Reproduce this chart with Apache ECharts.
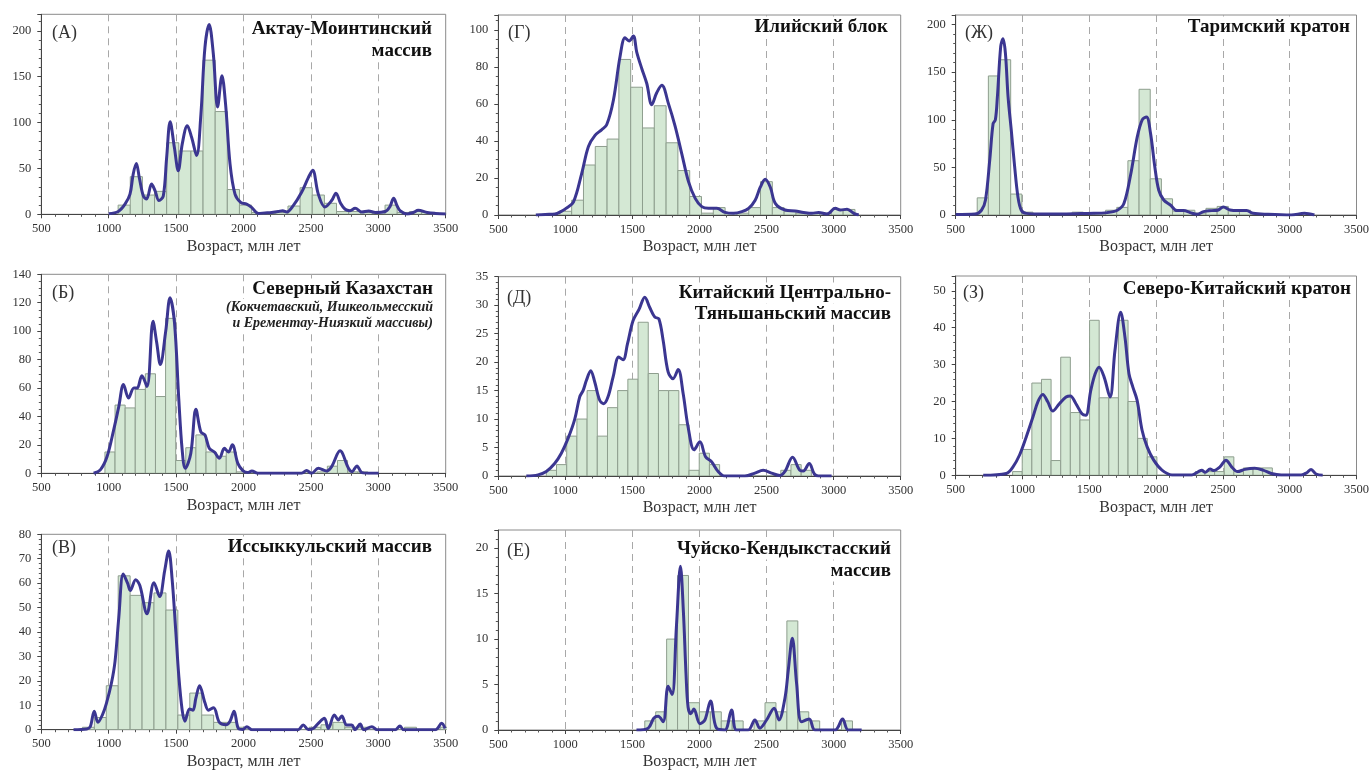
<!DOCTYPE html>
<html><head><meta charset="utf-8">
<script src="https://cdn.jsdelivr.net/npm/echarts@6/dist/echarts.min.js"></script>
<style>html,body{margin:0;padding:0;background:#fff}#c{width:1372px;height:771px}</style>
</head><body><div id="c"></div>
<script>
// ---------- DATA ----------
const xTicks = [500, 1000, 1500, 2000, 2500, 3000, 3500];

// (А) Актау-Моинтинский массив
const aktauBinStart = 1070, aktauBinWidth = 90;
const aktauCounts = [10, 41, 21, 25, 78, 69, 69, 168, 112, 27, 10, 2, 1, 2, 9, 29, 21, 12, 3, 3, 2, 2, 10, 2, 3, 2, 1];
const aktauCurve = [[1000,0.5],[1071,3],[1121,11],[1158,22],[1182,44],[1205,55.5],[1227,40],[1257,20],[1281,16.7],[1318,33],[1343,26],[1373,15],[1405,20],[1430,62],[1456,101],[1487,73],[1516,47.6],[1546,77],[1583,96.6],[1615,84],[1652,64],[1684,109],[1714,182],[1745,207],[1776,175],[1808,117],[1840,151],[1867,120],[1900,55],[1937,22],[1979,13],[2023,11],[2060,7.6],[2110,1],[2159,1.5],[2209,2],[2258,3],[2290,4],[2320,2.5],[2369,9.4],[2431,24],[2481,40],[2513,48],[2555,22],[2604,8],[2654,15],[2686,23],[2720,12],[2754,5.5],[2790,4],[2828,6.5],[2878,2.5],[2928,3.6],[2978,2],[3052,3],[3085,8],[3114,17.5],[3140,9],[3164,3.6],[3214,0.4],[3260,2],[3296,4.4],[3363,2],[3425,1],[3500,0.4]];

// (Г) Илийский блок
const iliBinStart = 959, iliBinWidth = 88;
const iliCounts = [2, 8, 27, 37, 41, 84, 69, 47, 59, 39, 24, 10, 1, 4, 1, 1, 4, 18, 4, 2, 1, 1, 1, 3, 3];
const iliCurve = [[780,0],[850,0.3],[923,0.5],[970,2],[1005,3.6],[1060,7],[1122,22.5],[1172,37],[1221,43],[1270,46],[1308,48.7],[1358,62],[1408,85.7],[1445,95.7],[1475,94],[1507,96.6],[1532,88],[1570,79],[1607,71],[1644,59.6],[1681,66],[1719,70],[1769,60],[1818,48],[1868,33],[1918,18],[1968,9],[2017,4.5],[2067,3.6],[2129,3.6],[2191,1.4],[2254,0.9],[2316,1.8],[2366,3.6],[2415,8],[2453,15],[2490,19.3],[2528,15],[2565,6.3],[2639,2.7],[2714,2.2],[2776,1.4],[2838,0.9],[2888,1.4],[2950,0.5],[3012,3.6],[3050,2.7],[3100,3.1],[3150,0.9],[3187,0]];

// (Ж) Таримский кратон
const tarimBinWidth = 83.5;
const tarimBinStarts = [661, 744.5, 828, 911.5, 995, 1371.5, 1455, 1538.5, 1622, 1705.5, 1789, 1872.5, 1956, 2039.5, 2123, 2206.5, 2290, 2373.5, 2457, 2540.5, 2624, 2707.5];
const tarimCounts = [18, 146, 163, 22, 3, 3, 1, 1, 5, 8, 57, 132, 38, 17, 4, 5, 2, 7, 9, 5, 5, 1];
const tarimCurve = [[500,0.5],[644,1],[693,5],[723,15.8],[755,58],[780,96],[797,100],[812,124],[837,177],[854,185],[872,170],[892,124],[916,89],[941,51],[966,19],[991,5],[1028,1.7],[1140,1],[1300,1],[1487,1.7],[1635,2.5],[1710,5],[1759,12],[1809,42],[1859,82],[1896,100],[1928,103],[1958,86],[1990,51],[2020,26],[2057,15.8],[2107,10.5],[2156,4.6],[2206,4.6],[2255,2.5],[2305,0.7],[2355,3.5],[2416,4.6],[2466,5.3],[2503,8.4],[2553,5.3],[2615,4.6],[2677,4.6],[2726,1.8],[2838,0.7],[3011,0],[3110,1.8],[3185,0]];

// (Б) Северный Казахстан
const sevkazBinStart = 972, sevkazBinWidth = 75;
const sevkazCounts = [15, 48, 46, 59, 70, 54, 109, 9, 18, 27, 15, 12, 15, 1, 0, 0, 0, 0, 0, 0, 0, 1, 5, 9, 1, 1];
const sevkazCurve = [[888,0],[938,2.4],[988,11.8],[1037,30.6],[1075,47],[1110,62.5],[1147,53],[1187,60],[1211,60],[1246,68.7],[1284,61],[1329,107],[1356,92],[1383,76.5],[1423,100],[1455,123.5],[1488,106],[1520,52],[1545,16.5],[1568,3.5],[1609,14],[1647,45],[1684,29],[1714,27],[1746,17.6],[1784,15],[1821,10.6],[1858,17.6],[1888,15],[1917,20],[1958,7],[1995,1.9],[2032,0.5],[2062,1.6],[2107,0],[2430,0],[2468,1.9],[2505,0],[2555,3.5],[2617,1.6],[2654,4.7],[2716,15.8],[2779,3.5],[2804,1.2],[2841,5.2],[2878,0.5],[2928,0],[3003,0]];

// (Д) Китайский Центрально-Тяньшаньский массив
const kitBinStart = 858, kitBinWidth = 76;
const kitCounts = [1, 2, 7, 10, 15, 7, 12, 15, 17, 27, 18, 15, 15, 9, 1, 4, 2, 0, 0, 0, 0, 0, 0, 1, 2, 1];
const kitCurve = [[709,0],[796,0.2],[858,0.8],[920,2.2],[970,4],[1020,6.6],[1070,10],[1107,13.9],[1132,15],[1157,16.8],[1189,18.5],[1219,16.5],[1256,13.3],[1286,12.7],[1318,13.9],[1356,17.4],[1398,20.9],[1430,20.4],[1463,23.2],[1505,27.3],[1550,29.3],[1592,31.4],[1629,29.6],[1667,27.9],[1697,27.6],[1729,23.8],[1766,18.3],[1803,17.1],[1841,18.7],[1878,14.5],[1915,8.6],[1960,4.6],[2003,6],[2045,3.4],[2090,2.5],[2139,0.8],[2189,0],[2338,0],[2413,0.5],[2475,1],[2537,0.5],[2600,0.1],[2637,0.8],[2694,3.3],[2749,1],[2774,0.9],[2818,2.2],[2856,0.35],[2886,0],[2985,0]];

// (З) Северо-Китайский кратон
const skBinStart = 926, skBinWidth = 72;
const skCounts = [1, 7, 25, 26, 4, 32, 17, 15, 42, 21, 21, 42, 20, 10, 5, 0, 0, 0, 0, 1, 1, 1, 5, 1, 2, 2, 2];
const skCurve = [[706,0],[879,0.5],[929,2.3],[978,5.5],[1028,10.4],[1078,15.8],[1115,19.9],[1152,21.9],[1189,19.9],[1226,17.4],[1276,19.4],[1326,21.2],[1358,21.5],[1400,19.4],[1445,16.7],[1474,16.3],[1511,23],[1544,27.5],[1573,29.3],[1611,26.6],[1655,21.2],[1692,33.8],[1735,44.2],[1767,37.4],[1797,27.5],[1826,23.9],[1858,20.3],[1895,12.2],[1933,7.7],[1982,4.1],[2044,1.4],[2119,0.1],[2268,0.1],[2317,1],[2342,1.35],[2367,0.8],[2404,1.7],[2429,1.3],[2478,2.3],[2523,4.1],[2565,2.3],[2610,1],[2664,1.6],[2738,1.9],[2800,1.4],[2862,0.5],[2937,0.1],[3086,0.1],[3128,0.7],[3160,1.6],[3197,0.35],[3247,0]];

// (В) Иссыккульский массив
const isBinStart = 805, isBinWidth = 88.5;
const isCounts = [1, 5, 18, 63, 55, 52, 56, 49, 6, 15, 6, 3, 3, 1, 0, 0, 0, 0, 0, 1, 2, 3, 1, 1, 0, 0, 0, 1, 0, 0, 1];
const isCurve = [[739,0],[838,0.3],[863,1.2],[893,7.6],[920,3],[955,6.3],[983,10.8],[1020,19],[1047,28],[1075,46],[1108,63.7],[1140,60],[1160,57],[1200,61.4],[1231,59],[1284,47.5],[1336,60.2],[1378,54.5],[1415,65],[1445,73.2],[1470,62],[1498,40],[1520,22],[1545,8],[1565,3.5],[1600,8.5],[1625,8],[1647,13],[1674,18],[1714,11],[1740,8],[1778,9],[1821,3],[1870,2],[1900,3.5],[1930,7.6],[1962,0.5],[1995,0.1],[2025,1.2],[2062,0],[2405,0],[2443,1.9],[2480,0.1],[2517,0.5],[2555,2.6],[2600,4.7],[2629,0.5],[2674,6],[2704,4],[2729,5.6],[2766,1.9],[2803,1.9],[2828,0],[2866,2.3],[2891,0],[2953,1.2],[2990,0],[3127,0],[3160,1.5],[3189,0],[3425,0],[3470,2.6],[3495,0.5]];

// (Е) Чуйско-Кендыкстасский массив
const chBinStart = 1592, chBinWidth = 81.5;
const chCounts = [1, 2, 10, 17, 3, 2, 2, 1, 1, 0, 1, 3, 2, 12, 2, 1, 0, 0, 1];
const chCurve = [[1530,0],[1617,0.2],[1659,1.3],[1692,1.5],[1729,0.9],[1766,4.8],[1796,3.9],[1828,11.4],[1858,18],[1880,13],[1900,6],[1915,2.5],[1935,1.8],[1958,2.3],[2003,0.7],[2040,1.1],[2082,3.2],[2127,0.2],[2189,0],[2239,2.2],[2276,0],[2363,0],[2413,1.1],[2450,0.2],[2500,1.1],[2557,2.4],[2592,1.1],[2637,3.5],[2662,6.6],[2692,10.1],[2724,5.1],[2761,0.9],[2818,1.2],[2861,0],[3010,0],[3067,1.2],[3109,0],[3209,0]];

// ---------- BUILD ----------
function uniformBins(start, width, counts) { return counts.map((c, i) => [start + i * width, start + (i + 1) * width, c]); }
function listedBins(starts, width, counts) { return counts.map((c, i) => [starts[i], starts[i] + width, c]); }

const FONT = '"Liberation Serif","Times New Roman",serif';
const plain = v => String(v);
const panels = [
  {g:[41.3,14.3,404.4,200], ymax:218, yint:50, ysub:5, showMax:false, bins:uniformBins(aktauBinStart,aktauBinWidth,aktauCounts), curve:aktauCurve},
  {g:[498.3,15,402.4,200], ymax:108, yint:20, ysub:4, showMax:false, bins:uniformBins(iliBinStart,iliBinWidth,iliCounts), curve:iliCurve},
  {g:[955.7,15,403.3,200], ymax:210, yint:50, ysub:5, showMax:false, bins:listedBins(tarimBinStarts,tarimBinWidth,tarimCounts), curve:tarimCurve},
  {g:[41.3,274.3,404.4,199], ymax:140, yint:20, ysub:4, showMax:true, bins:uniformBins(sevkazBinStart,sevkazBinWidth,sevkazCounts), curve:sevkazCurve},
  {g:[498.3,276.7,402.4,199.3], ymax:35, yint:5, ysub:5, showMax:true, bins:uniformBins(kitBinStart,kitBinWidth,kitCounts), curve:kitCurve},
  {g:[955.7,276,403.3,199.3], ymax:54, yint:10, ysub:5, showMax:false, bins:uniformBins(skBinStart,skBinWidth,skCounts), curve:skCurve},
  {g:[41.3,534.3,404.4,195.4], ymax:80, yint:10, ysub:5, showMax:true, bins:uniformBins(isBinStart,isBinWidth,isCounts), curve:isCurve},
  {g:[498.3,530,402.4,200], ymax:22, yint:5, ysub:5, showMax:false, bins:uniformBins(chBinStart,chBinWidth,chCounts), curve:chCurve}
];

const grid = [], xAxis = [], yAxis = [], series = [];
panels.forEach((p, i) => {
  grid.push({left:p.g[0], top:p.g[1], width:p.g[2], height:p.g[3], show:true, borderColor:'#8a8a8a', borderWidth:1, backgroundColor:'transparent'});
  xAxis.push({type:'value', gridIndex:i, min:xTicks[0], max:xTicks[xTicks.length-1], interval:xTicks[1]-xTicks[0],
    axisLine:{show:true, onZero:false, lineStyle:{color:'#444', width:1}},
    axisTick:{show:true, length:4, lineStyle:{color:'#444'}},
    minorTick:{show:true, splitNumber:5, length:2.5, lineStyle:{color:'#555'}},
    splitLine:{show:true, showMinLine:false, showMaxLine:false, lineStyle:{color:'#a8a8a8', type:[7,5], width:1}},
    axisLabel:{fontFamily:FONT, fontSize:12.5, color:'#333', margin:8, formatter:plain},
    name:'Возраст, млн лет', nameLocation:'middle', nameGap:24,
    nameTextStyle:{fontFamily:FONT, fontSize:16, color:'#333'}});
  yAxis.push({type:'value', gridIndex:i, min:0, max:p.ymax, interval:p.yint,
    axisLine:{show:true, lineStyle:{color:'#444', width:1}},
    axisTick:{show:true, length:4, lineStyle:{color:'#444'}},
    minorTick:{show:true, splitNumber:p.ysub, length:2.5, lineStyle:{color:'#555'}},
    splitLine:{show:false},
    axisLabel:{fontFamily:FONT, fontSize:12.5, color:'#333', margin:10, showMaxLabel:p.showMax, formatter:plain}});
  series.push({type:'custom', xAxisIndex:i, yAxisIndex:i, clip:true, z:2,
    data:p.bins, encode:{x:[0,1], y:2},
    renderItem:function(params, api){
      const a = api.coord([api.value(0), api.value(2)]);
      const b = api.coord([api.value(1), 0]);
      return {type:'rect', shape:{x:a[0], y:a[1], width:b[0]-a[0], height:b[1]-a[1]},
        style:{fill:'#d4e8d4', stroke:'#8e9e8e', lineWidth:1}};
    }});
  series.push({type:'line', xAxisIndex:i, yAxisIndex:i, data:p.curve, smooth:0.35, showSymbol:false, z:3,
    clip:true, lineStyle:{color:'#3b3691', width:3}, silent:true});
});

const titleLines = [
  [435,29,'Актау-Моинтинский'],[435,51,'массив'],
  [891,27,'Илийский блок'],
  [1353,27,'Таримский кратон'],
  [436,289,'Северный Казахстан'],
  [894,293,'Китайский Центрально-'],[894,314,'Тяньшаньский массив'],
  [1354,289,'Северо-Китайский кратон'],
  [435,547,'Иссыккульский массив'],
  [894,549,'Чуйско-Кендыкстасский'],[894,571,'массив']
];
const subLines = [[436,307,'(Кокчетавский, Ишкеольмесский'],[436,323,'и Ерементау-Ниязкий массивы)']];
const panelLabels = [[52,33,'(А)'],[508,33,'(Г)'],[965,33,'(Ж)'],[52,293,'(Б)'],[507,298,'(Д)'],[963,293,'(З)'],[52,548,'(В)'],[507,551,'(Е)']];

const graphic = [];
titleLines.forEach(t => graphic.push({type:'text', x:t[0], y:t[1], z:100, silent:true,
  style:{text:t[2], font:'bold 19px ' + FONT, fill:'#111', align:'right', verticalAlign:'middle', backgroundColor:'#fff', padding:[1,3,1,3]}}));
subLines.forEach(t => graphic.push({type:'text', x:t[0], y:t[1], z:100, silent:true,
  style:{text:t[2], font:'italic bold 14px ' + FONT, fill:'#222', align:'right', verticalAlign:'middle', backgroundColor:'#fff', padding:[1,3,1,3]}}));
panelLabels.forEach(t => graphic.push({type:'text', x:t[0], y:t[1], z:100, silent:true,
  style:{text:t[2], font:'18px ' + FONT, fill:'#333', align:'left', verticalAlign:'middle'}}));

const chart = echarts.init(document.getElementById('c'), null, {renderer:'canvas'});
chart.setOption({backgroundColor:'#fff', animation:false, grid, xAxis, yAxis, series, graphic});
</script>
</body></html>
